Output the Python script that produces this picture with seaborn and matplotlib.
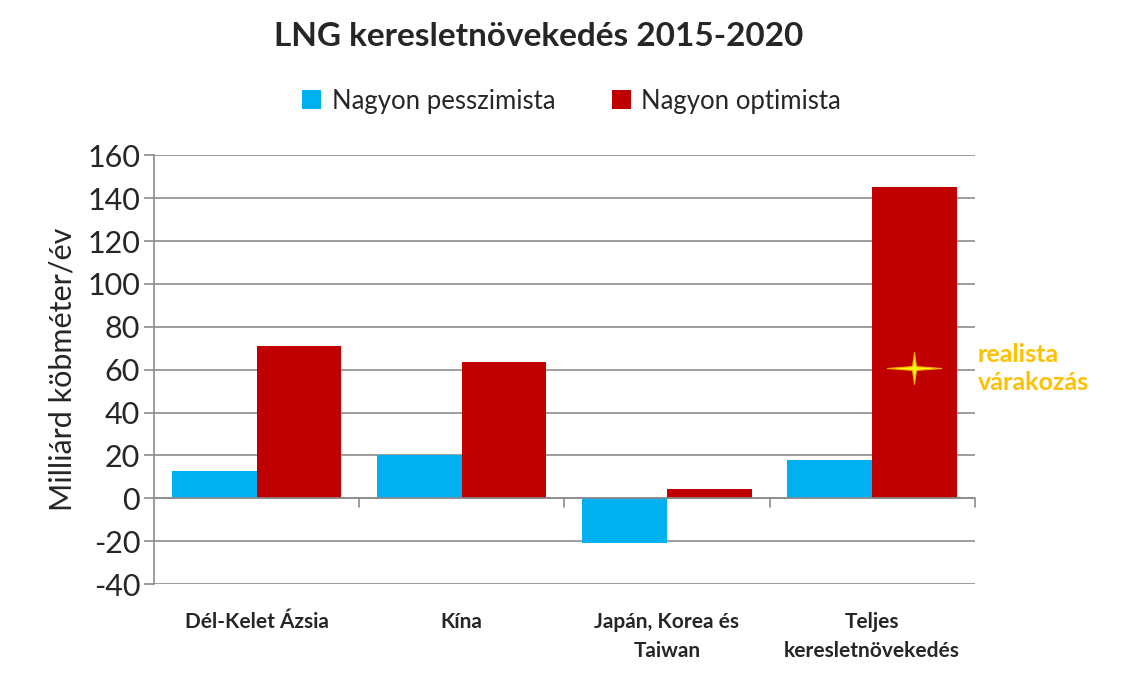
import numpy as np
import pandas as pd
import matplotlib
matplotlib.use("Agg")
import matplotlib.pyplot as plt
from matplotlib.path import Path
from matplotlib.patches import Patch
import seaborn as sns

# -------------------------------------------------------------------
# Data
# -------------------------------------------------------------------

regions = ["Dél-Kelet Ázsia", "Kína", "Japán, Korea és\nTaiwan",
           "Teljes\nkeresletnövekedés"]
scenarios = ["Nagyon pesszimista", "Nagyon optimista"]
pessimistic = [12.7, 20.0, -20.7, 17.9]
optimistic = [71.0, 63.6, 4.4, 145.1]
realistic_total = 60.6

colors = ["#00B0F0", "#C00000"]
grid_col = "#8C8C8C"

df = pd.DataFrame({
    "region": regions * 2,
    "scenario": [scenarios[0]] * 4 + [scenarios[1]] * 4,
    "value": pessimistic + optimistic,
})

# -------------------------------------------------------------------
# Plot
# -------------------------------------------------------------------

sns.set_theme(style="white")
plt.rcParams["font.family"] = ["Lato", "DejaVu Sans"]
plt.rcParams["axes.unicode_minus"] = False

fig = plt.figure(figsize=(11.36, 6.75), dpi=100)
ax = fig.add_axes([0.1356, 0.1347, 0.7224, 0.6353])

sns.barplot(data=df, x="region", y="value", hue="scenario",
            palette=colors, saturation=1, width=0.825, ax=ax,
            legend=False, linewidth=0, zorder=3)

ax.set_xlim(-0.5, 3.5)
ax.set_ylim(-40, 160)
ax.set_yticks(np.arange(-40, 161, 20))
ax.yaxis.grid(True, color=grid_col, lw=1.2, zorder=0)
ax.set_axisbelow(True)

for s in ["top", "right", "bottom"]:
    ax.spines[s].set_visible(False)
ax.spines["left"].set_color(grid_col)
ax.spines["left"].set_linewidth(1.2)

# zero line with category separators
ax.axhline(0, color=grid_col, lw=1.2, zorder=4)
for b in [0.5, 1.5, 2.5, 3.5]:
    ax.plot([b, b], [0, -4], color=grid_col, lw=1.2, zorder=4, clip_on=False)

ax.tick_params(axis="y", left=True, length=7, color=grid_col, width=1.2,
               labelsize=22, pad=3)
ax.tick_params(axis="x", bottom=False, pad=14)
for lbl in ax.get_xticklabels():
    lbl.set_fontsize(15)
    lbl.set_fontweight("bold")
    lbl.set_linespacing(1.55)
    lbl.set_verticalalignment("top")

ax.set_xlabel("")
ax.set_ylabel("Milliárd köbméter/év", fontsize=22, labelpad=8)

# realistic expectation star on the total bar
red_bars = ax.patches[4:8]
star_x = red_bars[3].get_x() + red_bars[3].get_width() / 2
star = Path([(1.7, 0), (0.12, 0.12), (0, 1), (-0.12, 0.12), (-1.7, 0),
             (-0.12, -0.12), (0, -1), (0.12, -0.12), (1.7, 0)])
ax.plot([star_x], [realistic_total], marker=star, markersize=39,
        color="#FFFF00", markeredgecolor="#F0B000", markeredgewidth=0.8,
        zorder=6)
ax.text(1.004, realistic_total, "realista\nvárakozás",
        transform=ax.get_yaxis_transform(), ha="left", va="center",
        fontsize=18, fontweight="bold", color="#FFC000", linespacing=1.25)

fig.suptitle("LNG keresletnövekedés 2015-2020", x=0.474, y=0.968,
             fontsize=24, fontweight="bold")

handles = [Patch(facecolor=c, edgecolor="none") for c in colors]
fig.legend(handles, scenarios, loc="center", bbox_to_anchor=(0.503, 0.85),
           ncol=2, frameon=False, fontsize=18.5, handlelength=0.75,
           handleheight=0.75, handletextpad=0.4, columnspacing=2.2)

fig.savefig("out.png", dpi=100)
